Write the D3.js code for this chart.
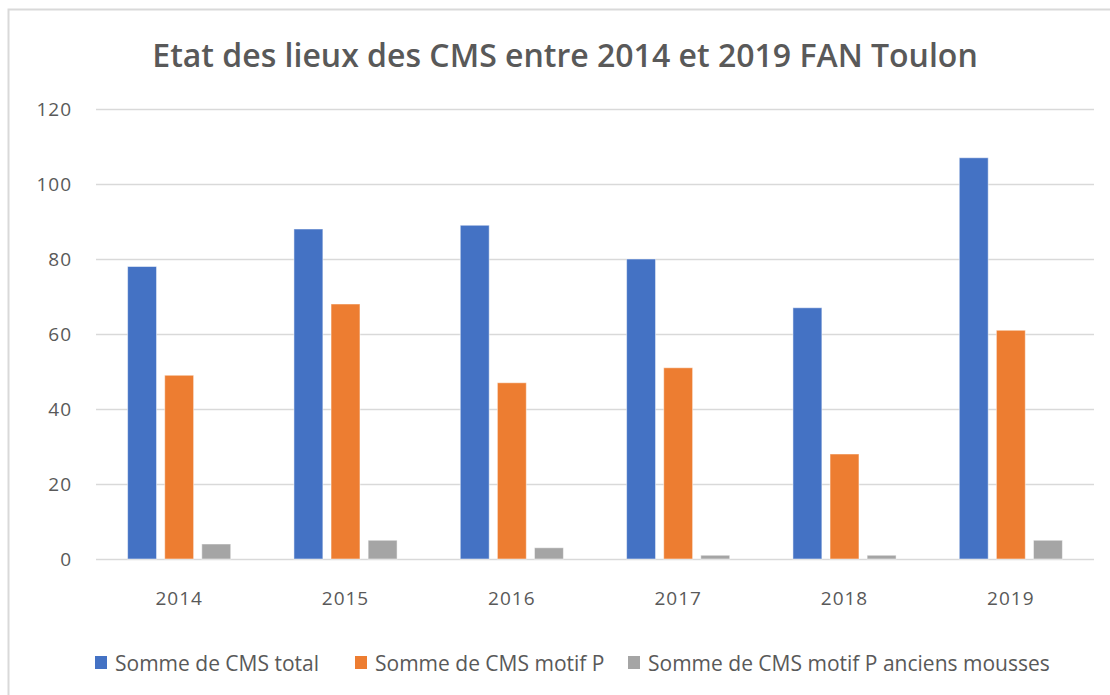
<!DOCTYPE html>
<html>
<head>
<meta charset="utf-8">
<script src="https://cdn.jsdelivr.net/npm/d3@7"></script>
<style>
  body { margin: 0; background: #fff; }
  text { font-family: "Open Sans", "Noto Sans", sans-serif; fill: #595959; }
</style>
</head>
<body>
<script>
const years = ["2014", "2015", "2016", "2017", "2018", "2019"];
const seriesNames = ["Somme de CMS total", "Somme de CMS motif P", "Somme de CMS motif P anciens mousses"];
const cmsTotal = [78, 88, 89, 80, 67, 107];
const cmsMotifP = [49, 68, 47, 51, 28, 61];
const cmsAnciensMousses = [4, 5, 3, 1, 1, 5];
const yTicks = [0, 20, 40, 60, 80, 100, 120];
const colors = ["#4472C4", "#ED7D31", "#A5A5A5"];
const titleText = "Etat des lieux des CMS entre 2014 et 2019 FAN Toulon";

const width = 1110;
const height = 695;
const allSeries = [cmsTotal, cmsMotifP, cmsAnciensMousses];

let svg = d3.select("body")
  .append("svg")
    .attr("width", width)
    .attr("height", height)

// chart frame
svg.append("rect")
  .attr("x", 8.5)
  .attr("y", 9.5)
  .attr("width", 1130)
  .attr("height", 720)
  .attr("fill", "none")
  .attr("stroke", "#D9D9D9")
  .attr("stroke-width", 2)

// title
svg.append("text")
  .attr("x", 565)
  .attr("y", 67)
  .attr("text-anchor", "middle")
  .style("font-size", "32px")
  .style("font-weight", "600")
  .text(titleText)

let y = d3.scaleLinear()
  .domain([0, 120])
  .range([559, 109])

let x0 = d3.scaleBand()
  .domain(years)
  .range([96, 1094])

let bw = x0.bandwidth();
let x1 = d3.scaleBand()
  .domain(d3.range(seriesNames.length))
  .range([bw * 0.19, bw * 0.81])
  .paddingInner(0.22)

// gridlines
let yAxis = d3.axisLeft(y)
  .tickValues(yTicks)
  .tickSize(-(1094 - 96))
  .tickPadding(24)

let yG = svg.append("g")
  .attr("transform", "translate(96,0)")
  .call(yAxis)
yG.select(".domain").remove()
yG.selectAll(".tick line").attr("stroke", "#D9D9D9").attr("stroke-width", 1.3)
yG.selectAll(".tick text")
  .style("font-size", "19px")
  .style("letter-spacing", "1px")
  .style("fill", "#595959")
  .attr("dy", "0.35em")

// bars
let groups = svg.selectAll("g.year")
  .data(years)
  .enter()
  .append("g")
    .attr("class", "year")
    .attr("transform", d => `translate(${x0(d)},0)`)

groups.selectAll("rect")
  .data((d, i) => allSeries.map((s, k) => ({ k: k, v: s[i] })))
  .enter()
  .append("rect")
    .attr("x", d => x1(d.k))
    .attr("width", x1.bandwidth())
    .attr("y", d => y(d.v))
    .attr("height", d => y(0) - y(d.v))
    .attr("fill", d => colors[d.k])
    .attr("stroke", "#ffffff")
    .attr("stroke-opacity", 0.5)
    .attr("stroke-width", 1)

// x axis labels
let xAxis = d3.axisBottom(x0).tickSize(0).tickPadding(33)
let xG = svg.append("g")
  .attr("transform", `translate(0,${y(0)})`)
  .call(xAxis)
xG.select(".domain").remove()
xG.selectAll(".tick text")
  .style("font-size", "19px")
  .style("letter-spacing", "1px")
  .style("fill", "#595959")

// legend
const legendX = [95, 355, 628];
let legend = svg.append("g")
  .attr("id", "legend")

seriesNames.forEach((name, k) => {
  legend.append("rect")
    .attr("x", legendX[k])
    .attr("y", 656)
    .attr("width", 12)
    .attr("height", 13)
    .attr("fill", colors[k])
  legend.append("text")
    .attr("x", legendX[k] + 20)
    .attr("y", 671)
    .style("font-size", "21px")
    .text(name)
})
</script>
</body>
</html>
